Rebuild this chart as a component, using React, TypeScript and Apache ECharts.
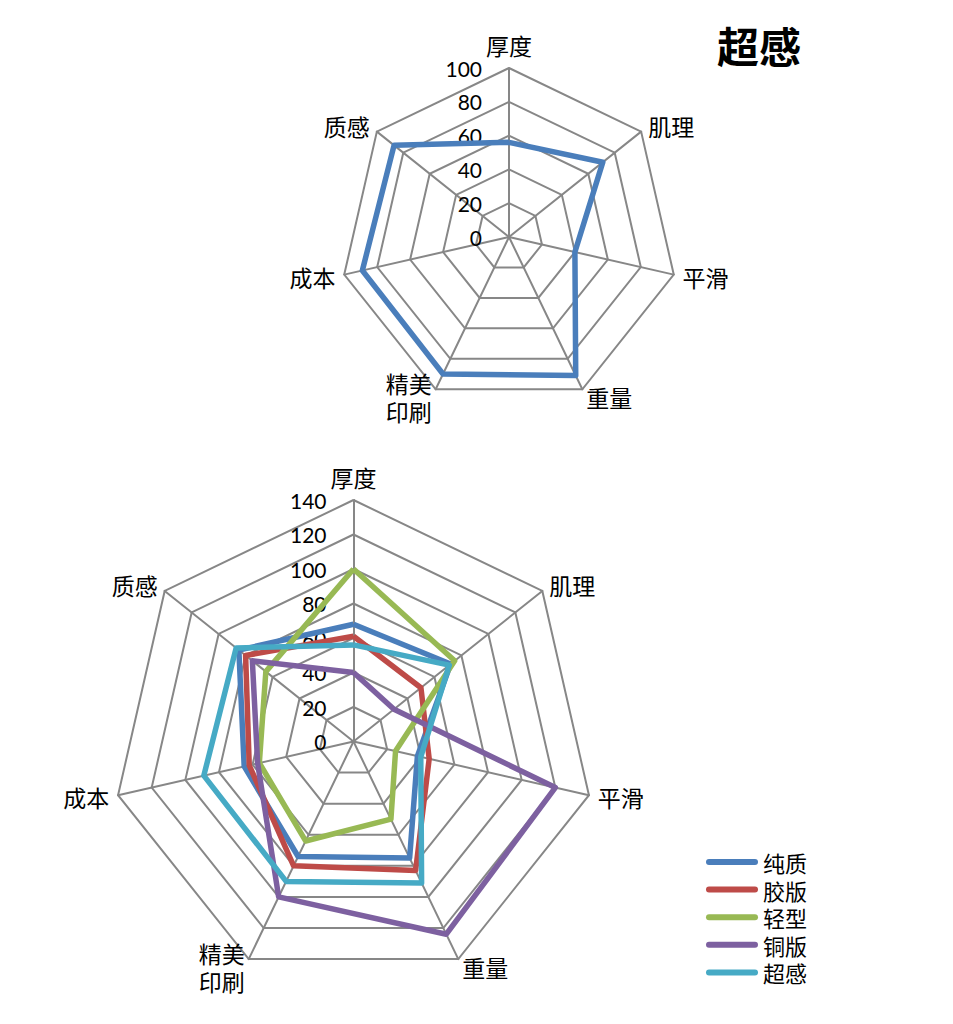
import React, { useEffect, useRef } from "react";
import * as echarts from "echarts";

// Axes in clockwise order starting at the top
const axisNames = ["厚度", "肌理", "平滑", "重量", "精美\n印刷", "成本", "质感"];
const seriesNames = ["纯质", "胶版", "轻型", "铜版", "超感"];
const seriesColors = ["#4A7EBB", "#BE4B48", "#98B954", "#7D60A0", "#46AAC5"];

const chunzhi = [68, 72, 38, 75, 74, 65, 85];
const jiaoban = [61, 50, 45, 83, 80, 62, 80];
const qingxing = [100, 75, 25, 50, 64, 56, 65];
const tongban = [40, 30, 120, 124, 100, 57, 75];
const chaogan = [56, 71, 40, 91, 90, 89, 87];

const bottomSeriesValues = [chunzhi, jiaoban, qingxing, tongban, chaogan];

const topMax = 100;
const bottomMax = 140;
const topSplit = 5;
const bottomSplit = 7;
const titleText = "超感";

// ECharts places radar indicators counter-clockwise; reorder to draw clockwise
const order = [0, 6, 5, 4, 3, 2, 1];
const reorder = <T,>(arr: T[]) => order.map((i) => arr[i]);

const CJK = "'Noto Sans CJK SC', 'Noto Sans', sans-serif";

export default function App() {
  const ref = useRef<HTMLDivElement>(null);
  useEffect(() => {
    if (!ref.current) return;
    const chart = echarts.init(ref.current, null, { renderer: "svg" });

    const makeIndicators = (max: number) =>
      reorder(axisNames).map((name, i) => ({
        name,
        max,
        min: 0,
        axisLabel: i === 0 ? { show: true } : { show: false },
      }));

    const radarCommon = {
      shape: "polygon",
      startAngle: 90,
      nameGap: 9,
      axisName: {
        color: "#000",
        fontSize: 23,
        fontFamily: CJK,
        lineHeight: 28,
      },
      axisLine: { lineStyle: { color: "#878787", width: 2 } },
      splitLine: { lineStyle: { color: "#878787", width: 2 } },
      splitArea: { show: false },
      axisTick: { show: false },
      axisLabel: {
        show: false,
        color: "#000",
        fontSize: 21,
        fontFamily: "Lato",
        margin: 27,
      },
    };

    chart.setOption({
      animation: false,
      backgroundColor: "#fff",
      title: {
        text: titleText,
        left: 712,
        top: 18,
        textStyle: {
          fontSize: 42,
          fontWeight: "bold",
          fontFamily: CJK,
          color: "#000",
        },
      },
      legend: {
        orient: "vertical",
        left: 701,
        top: 846,
        data: seriesNames,
        itemWidth: 52,
        itemHeight: 6,
        itemGap: 5.6,
        icon: "path://M3,0L49,0A3,3,0,0,1,49,6L3,6A3,3,0,0,1,3,0Z",
        textStyle: {
          color: "#000",
          fontSize: 22,
          lineHeight: 22,
          fontFamily: CJK,
          padding: [0, 0, 0, 0],
        },
      },
      radar: [
        {
          ...radarCommon,
          center: [509, 237],
          radius: 169,
          splitNumber: topSplit,
          indicator: makeIndicators(topMax),
        },
        {
          ...radarCommon,
          center: [353.5, 741.5],
          radius: 241.5,
          splitNumber: bottomSplit,
          indicator: makeIndicators(bottomMax),
        },
      ],
      series: [
        {
          type: "radar",
          radarIndex: 1,
          symbol: "none",
          silent: true,
          data: bottomSeriesValues.map((vals, k) => ({
            name: seriesNames[k],
            value: reorder(vals),
            itemStyle: { color: seriesColors[k] },
            lineStyle: { color: seriesColors[k], width: 5.5 },
          })),
        },
        {
          type: "radar",
          radarIndex: 0,
          symbol: "none",
          silent: true,
          data: [
            {
              name: titleText + "(单)",
              value: reorder(chaogan),
              itemStyle: { color: seriesColors[0] },
              lineStyle: { color: seriesColors[0], width: 5.5 },
            },
          ],
        },
      ],
    });
    return () => chart.dispose();
  }, []);

  return (
    <div
      ref={ref}
      style={{ position: "absolute", left: 0, top: 0, width: 953, height: 1024 }}
    />
  );
}
